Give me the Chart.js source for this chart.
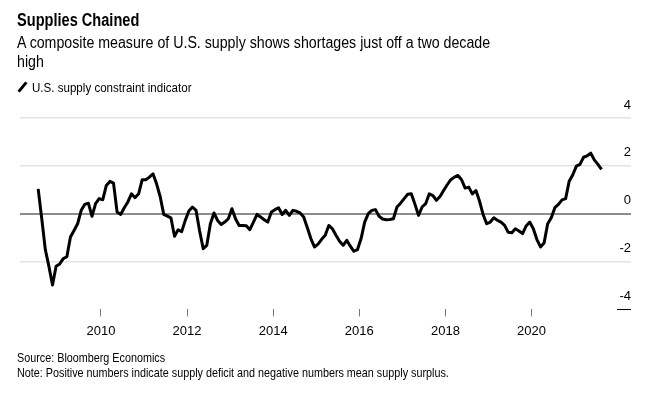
<!DOCTYPE html>
<html>
<head>
<meta charset="utf-8">
<script src="https://cdn.jsdelivr.net/npm/chart.js@4.4.1/dist/chart.umd.min.js"></script>
<style>
  body { margin: 0; background: #fff; color: #000; font-family: "Liberation Sans", Arial, sans-serif; }
  #wrap { position: relative; width: 652px; height: 398px; overflow: hidden; }
  #wrap canvas { position: absolute; left: 0; top: 0; }
  .title, .sub, .legend, .foot { position: absolute; left: 17px; white-space: nowrap; transform-origin: 0 0; }
  .title { top: 10px; font-size: 18px; line-height: 20px; font-weight: bold; transform: scaleX(0.81); }
  .sub { top: 33px; font-size: 16px; line-height: 19px; transform: scaleX(0.887); }
  .legend { top: 80px; font-size: 13px; line-height: 15px; }
  .legend i { position: absolute; left: 4px; top: 1px; width: 3px; height: 12px; background: #000; transform: rotate(40deg); }
  .legend span { display: inline-block; margin-left: 15px; transform-origin: 0 0; transform: scaleX(0.89); }
  .foot { top: 350px; font-size: 13px; line-height: 15px; transform: scaleX(0.83); }
</style>
</head>
<body>
<div id="wrap">
  <canvas id="myChart" width="652" height="398"></canvas>
  <div class="title">Supplies Chained</div>
  <div class="sub">A composite measure of U.S. supply shows shortages just off a two decade<br>high</div>
  <div class="legend"><i></i><span>U.S. supply constraint indicator</span></div>
  <div class="foot">Source: Bloomberg Economics<br>Note: Positive numbers indicate supply deficit and negative numbers mean supply surplus.</div>
</div>
<script>
// monthly readings, July 2008 .. August 2021
var startYear = 2008;
var startMonth = 7;
var supplyIndicator = [
  1.04, -0.2, -1.5, -2.2, -2.98, -2.2, -2.1, -1.88, -1.8, -0.97, -0.7, -0.42,
  0.14, 0.39, 0.44, -0.11, 0.42, 0.63, 0.58, 1.18, 1.35, 1.28, 0.07, -0.03,
  0.25, 0.49, 0.83, 0.67, 0.83, 1.42, 1.42, 1.53, 1.67, 1.25, 0.72, -0.03,
  -0.1, -0.17, -0.94, -0.67, -0.75, -0.28, 0.11, 0.28, 0.14, -0.72, -1.46, -1.32,
  -0.42, 0.03, -0.28, -0.45, -0.35, -0.21, 0.21, -0.21, -0.49, -0.49, -0.5, -0.67,
  -0.35, -0.03, -0.14, -0.25, -0.35, 0.07, 0.17, 0.25, -0.03, 0.14, -0.07, 0.14,
  0.1, 0.03, -0.14, -0.58, -1.04, -1.39, -1.27, -1.07, -0.9, -0.49, -0.63, -0.9,
  -1.15, -1.32, -1.11, -1.36, -1.57, -1.5, -1.04, -0.35, 0, 0.14, 0.17, -0.11,
  -0.22, -0.25, -0.24, -0.21, 0.28, 0.44, 0.63, 0.81, 0.83, 0.4, -0.07, 0.28,
  0.42, 0.83, 0.76, 0.56, 0.72, 0.97, 1.21, 1.42, 1.53, 1.6, 1.42, 1.07,
  1.11, 0.83, 0.97, 0.53, -0.03, -0.42, -0.35, -0.17, -0.28, -0.35, -0.49, -0.78,
  -0.8, -0.63, -0.72, -0.83, -0.51, -0.35, -0.63, -1.08, -1.39, -1.22, -0.42, -0.17,
  0.25, 0.39, 0.58, 0.63, 1.36, 1.63, 1.99, 2.06, 2.36, 2.42, 2.53, 2.25,
  2.06, 1.85
];
var yearTicks = [2010, 2012, 2014, 2016, 2018, 2020];
var valueTicks = [-4, -2, 0, 2, 4];

Chart.defaults.font.family = '"Liberation Sans", Arial, sans-serif';
Chart.defaults.color = '#000';

// x = decimal year, point placed mid-month
var points = supplyIndicator.map(function (v, i) {
  return { x: startYear + (startMonth - 1 + i + 0.5) / 12, y: v };
});

// little black rule under the bottom label
var bottomRule = {
  id: 'bottomRule',
  afterDraw: function (chart) {
    var ctx = chart.ctx, a = chart.chartArea;
    var y = Math.round(chart.scales.y.getPixelForValue(valueTicks[0])) + 0.5;
    ctx.save();
    ctx.strokeStyle = '#000';
    ctx.lineWidth = 1;
    ctx.beginPath();
    ctx.moveTo(a.right - 14, y);
    ctx.lineTo(a.right, y);
    ctx.stroke();
    ctx.restore();
  }
};

new Chart(document.getElementById('myChart'), {
  type: 'line',
  data: {
    datasets: [{
      label: 'U.S. supply constraint indicator',
      data: points,
      borderColor: '#000',
      borderWidth: 3,
      borderJoinStyle: 'round',
      pointRadius: 0,
      tension: 0,
      fill: false
    }]
  },
  options: {
    responsive: false,
    animation: false,
    layout: { padding: { left: 20, right: 21, top: 118, bottom: 52 } },
    plugins: { legend: { display: false }, tooltip: { enabled: false } },
    scales: {
      x: {
        type: 'linear',
        min: 2008.12,
        max: 2022.31,
        afterBuildTicks: function (s) { s.ticks = yearTicks.map(function (v) { return { value: v }; }); },
        border: { display: false },
        grid: { drawOnChartArea: false, drawTicks: true, tickLength: 7, color: '#777' },
        ticks: { font: { size: 13 }, color: '#000', padding: 7, maxRotation: 0, callback: function (v) { return String(v); } }
      },
      y: {
        position: 'right',
        min: -4,
        max: 4,
        afterBuildTicks: function (s) { s.ticks = valueTicks.map(function (v) { return { value: v }; }); },
        border: { display: false },
        grid: {
          drawTicks: false,
          color: function (c) {
            if (c.tick.value === 0) return '#8c8c8c';
            if (c.tick.value === valueTicks[0]) return 'rgba(0,0,0,0)';
            return '#e3e3e3';
          },
          lineWidth: function (c) { return c.tick.value === 0 ? 2 : 1.5; }
        },
        ticks: { mirror: true, labelOffset: -13, padding: 0, font: { size: 13 }, color: '#000' }
      }
    }
  },
  plugins: [bottomRule]
});
</script>
</body>
</html>
